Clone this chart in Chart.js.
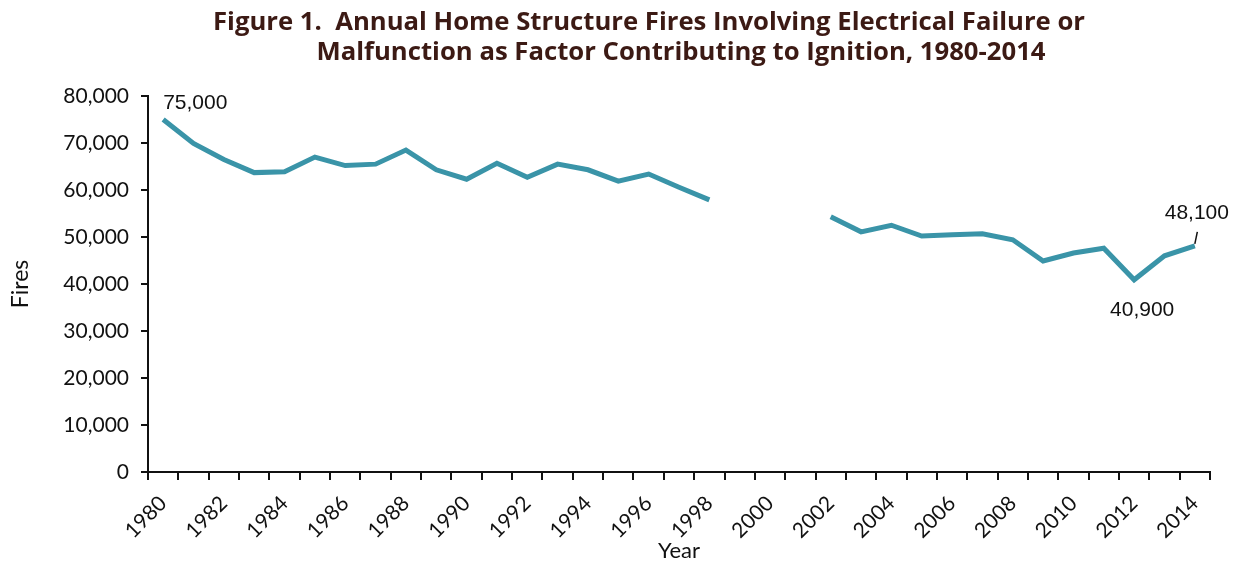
<!DOCTYPE html>
<html>
<head>
<meta charset="utf-8">
<script src="https://cdn.jsdelivr.net/npm/chart.js@4.4.1/dist/chart.umd.min.js"></script>
<style>
html,body{margin:0;padding:0;background:#fff;}
#wrap{width:1242px;height:565px;}
</style>
</head>
<body>
<div id="wrap"><canvas id="c" width="1242" height="565" role="img" aria-label="Figure 1. Annual Home Structure Fires Involving Electrical Failure or Malfunction as Factor Contributing to Ignition, 1980-2014"></canvas></div>
<script>
const years = [];
for (let y = 1980; y <= 2014; y++) years.push(String(y));
const fires = [
  75000, 69900, 66500, 63700, 63900, 67000, 65200, 65500, 68500, 64300,
  62300, 65700, 62700, 65500, 64300, 61900, 63400, 60600, 57900, null,
  null, null, 54300, 51100, 52500, 50200, 50500, 50700, 49400, 44900,
  46600, 47600, 40900, 46000, 48100
];
const titleLines = [
  "Figure 1.  Annual Home Structure Fires Involving Electrical Failure or",
  "Malfunction as Factor Contributing to Ignition, 1980-2014"
];
const annotations = [
  { year: "1980", text: "75,000", dx: 0, dy: -16, align: "left", leader: false },
  { year: "2014", text: "48,100", dx: 2, dy: -33, align: "center", leader: true },
  { year: "2012", text: "40,900", dx: 8, dy: 30, align: "center", leader: false }
];

const titlePlugin = {
  id: 'figTitle',
  afterDraw(chart) {
    const ctx = chart.ctx;
    ctx.save();
    ctx.font = 'bold 25.7px "Open Sans", Lato, sans-serif';
    ctx.fillStyle = '#3c1a14';
    ctx.textAlign = 'center';
    ctx.textBaseline = 'middle';
    const centers = [649, 681];
    const ys = [23, 53];
    titleLines.forEach((t, i) => ctx.fillText(t, centers[i], ys[i]));
    ctx.restore();
  }
};

const annotPlugin = {
  id: 'annot',
  afterDatasetsDraw(chart) {
    const ctx = chart.ctx;
    const xs = chart.scales.x, ys = chart.scales.y;
    ctx.save();
    ctx.font = '21px "Liberation Sans", Arial, sans-serif';
    ctx.fillStyle = '#111';
    ctx.textBaseline = 'middle';
    annotations.forEach(a => {
      const i = years.indexOf(a.year);
      const px = xs.getPixelForValue(i);
      const py = ys.getPixelForValue(fires[i]);
      ctx.textAlign = a.align;
      ctx.fillText(a.text, px + a.dx, py + a.dy);
      if (a.leader) {
        ctx.strokeStyle = '#111';
        ctx.lineWidth = 1.5;
        ctx.beginPath();
        ctx.moveTo(px + 2.5, py - 14);
        ctx.lineTo(px, py - 2);
        ctx.stroke();
      }
    });
    ctx.restore();
  }
};

new Chart(document.getElementById('c'), {
  type: 'line',
  data: {
    labels: years,
    datasets: [{
      data: fires,
      borderColor: '#3a94a8',
      borderWidth: 5,
      pointRadius: 0,
      spanGaps: false,
      tension: 0,
      borderJoinStyle: 'miter'
    }]
  },
  options: {
    responsive: false,
    animation: false,
    layout: { padding: { left: 0, right: 32, top: 96, bottom: 0 } },
    plugins: {
      legend: { display: false },
      tooltip: { enabled: false },
      title: { display: false }
    },
    scales: {
      x: {
        type: 'category',
        offset: true,
        border: { display: true, color: '#111', width: 2 },
        grid: { display: true, offset: true, drawOnChartArea: false, drawTicks: true, tickLength: 8, color: '#111', lineWidth: 2 },
        ticks: {
          autoSkip: false,
          minRotation: 45,
          maxRotation: 45,
          padding: 11,
          color: '#111',
          font: { family: 'Lato, sans-serif', size: 21 },
          callback: function(v, i) { return (i % 2 === 0) ? years[i] : ''; }
        },
        title: {
          display: true, text: 'Year', color: '#111',
          font: { family: 'Lato, sans-serif', size: 22 },
          padding: { top: -6, bottom: 1 }
        },
        afterFit(s) { s.height = 565 - 472; }
      },
      y: {
        min: 0, max: 80000,
        border: { display: true, color: '#111', width: 2 },
        grid: { display: true, drawOnChartArea: false, drawTicks: true, tickLength: 7, color: '#111', lineWidth: 2 },
        ticks: {
          stepSize: 10000,
          padding: 12,
          color: '#111',
          font: { family: 'Lato, sans-serif', size: 21 },
          callback: v => v.toLocaleString('en-US')
        },
        title: {
          display: true, text: 'Fires', color: '#111',
          font: { family: 'Lato, sans-serif', size: 23 },
          padding: { top: 7, bottom: 8 }
        },
        afterFit(s) { s.width = 148; }
      }
    }
  },
  plugins: [annotPlugin, titlePlugin]
});
</script>
</body>
</html>
